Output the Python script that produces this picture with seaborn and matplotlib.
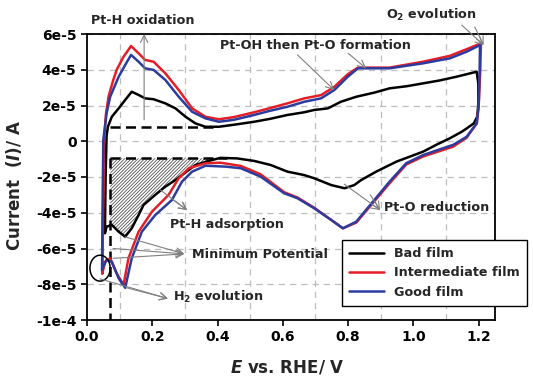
"""
plot.py - cyclic voltammograms of the three Pt films (bad / intermediate / good).
"""

import numpy as np
import pandas as pd
import matplotlib
matplotlib.use("Agg")
import matplotlib.pyplot as plt
from matplotlib.patches import Ellipse
import seaborn as sns

SCALE = 1e-5  # currents below are written in units of 1e-5 A

# ---- Bad film (black) : forward (anodic) then reverse (cathodic) scan
bad_fwd_e = [0.055, 0.057, 0.060, 0.064, 0.076, 0.097, 0.117, 0.137, 0.158, 0.178,
             0.204, 0.240, 0.271, 0.302, 0.332, 0.363, 0.404, 0.460, 0.512, 0.560,
             0.614, 0.665, 0.696, 0.738, 0.778, 0.825, 0.880, 0.927, 0.980, 1.030,
             1.080, 1.132, 1.194]
bad_fwd_i = [-5.10, -2.00, 0.30, 0.81, 1.37, 1.84, 2.31, 2.77, 2.59, 2.40,
             2.35, 2.12, 1.84, 1.37, 1.00, 0.81, 0.81, 0.95, 1.09, 1.25,
             1.47, 1.62, 1.75, 1.84, 2.21, 2.49, 2.72, 2.96, 3.08, 3.24,
             3.40, 3.61, 3.89]
bad_rev_e = [1.199, 1.199, 1.196, 1.185, 1.165, 1.148, 1.110, 1.070, 1.030, 0.948,
             0.886, 0.840, 0.819, 0.789, 0.748, 0.696, 0.665, 0.614, 0.563, 0.512,
             0.460, 0.409, 0.373, 0.332, 0.302, 0.271, 0.240, 0.209, 0.173, 0.158,
             0.137, 0.117, 0.097, 0.076, 0.060, 0.055]
bad_rev_i = [3.20, 2.20, 1.40, 1.00, 0.74, 0.53, 0.15, -0.20, -0.58, -1.14,
             -1.70, -2.17, -2.45, -2.63, -2.45, -2.07, -1.89, -1.70, -1.33, -1.10,
             -0.96, -0.93, -1.10, -1.33, -1.74, -2.17, -2.54, -3.00, -3.57, -4.13,
             -4.87, -5.34, -5.06, -4.68, -4.78, -5.15]

# ---- Intermediate film (red)
mid_fwd_e = [0.047, 0.050, 0.052, 0.058, 0.066, 0.080, 0.091, 0.112, 0.135, 0.158,
             0.178, 0.204, 0.240, 0.281, 0.322, 0.363, 0.404, 0.450, 0.512, 0.560,
             0.614, 0.666, 0.717, 0.758, 0.799, 0.830, 0.855, 0.927, 1.030, 1.112,
             1.163, 1.207]
mid_fwd_i = [-7.40, -3.00, 0.00, 1.50, 2.50, 3.40, 4.00, 4.73, 5.33, 4.92,
             4.55, 4.45, 3.80, 2.87, 1.84, 1.37, 1.23, 1.35, 1.62, 1.85,
             2.12, 2.40, 2.58, 3.05, 3.75, 4.12, 4.12, 4.12, 4.45, 4.78,
             5.15, 5.48]
mid_rev_e = [1.205, 1.200, 1.194, 1.163, 1.122, 1.030, 0.978, 0.927, 0.876, 0.825,
             0.784, 0.748, 0.696, 0.645, 0.604, 0.532, 0.471, 0.409, 0.363, 0.312,
             0.281, 0.250, 0.199, 0.158, 0.127, 0.112, 0.091, 0.071, 0.055, 0.047]
mid_rev_i = [4.00, 2.00, 1.00, 0.20, -0.30, -0.85, -1.30, -2.35, -3.45, -4.55,
             -4.87, -4.40, -3.72, -3.15, -2.85, -1.85, -1.38, -1.20, -1.23, -1.51,
             -2.07, -3.00, -3.94, -5.06, -6.55, -8.04, -7.39, -6.55, -6.74, -7.40]

# ---- Good film (blue)
good_fwd_e = [0.046, 0.048, 0.050, 0.060, 0.071, 0.097, 0.117, 0.135, 0.158, 0.178,
              0.204, 0.240, 0.281, 0.322, 0.363, 0.404, 0.450, 0.512, 0.560, 0.614,
              0.666, 0.717, 0.758, 0.799, 0.830, 0.855, 0.927, 1.030, 1.112, 1.163,
              1.204]
good_fwd_i = [-7.20, -3.00, 0.07, 1.56, 2.49, 3.61, 4.27, 4.83, 4.45, 4.08,
              3.99, 3.43, 2.49, 1.65, 1.28, 1.09, 1.20, 1.47, 1.70, 1.93,
              2.21, 2.40, 2.87, 3.61, 4.08, 4.08, 4.08, 4.36, 4.64, 5.01,
              5.38]
good_rev_e = [1.203, 1.200, 1.194, 1.163, 1.122, 1.030, 0.978, 0.927, 0.876, 0.825,
              0.784, 0.748, 0.696, 0.645, 0.604, 0.532, 0.471, 0.425, 0.363, 0.322,
              0.291, 0.260, 0.209, 0.168, 0.137, 0.117, 0.097, 0.076, 0.060, 0.050,
              0.046]
good_rev_i = [4.00, 2.00, 1.00, 0.25, -0.20, -0.77, -1.23, -2.26, -3.38, -4.50,
              -4.87, -4.40, -3.75, -3.19, -2.91, -1.98, -1.51, -1.42, -1.37, -1.70,
              -2.26, -3.29, -4.13, -5.06, -6.55, -8.20, -7.67, -6.74, -6.64, -7.02,
              -7.20]

films = ["Bad film", "Intermediate film", "Good film"]
colors = {"Bad film": "#000000", "Intermediate film": "#e41e26", "Good film": "#2c3c9e"}

x_ticks = [0.0, 0.2, 0.4, 0.6, 0.8, 1.0, 1.2]
x_grid = [0.1, 0.3, 0.5, 0.7, 0.9, 1.1]
y_ticks = [-10, -8, -6, -4, -2, 0, 2, 4, 6]
y_labels = ["-1e-4", "-8e-5", "-6e-5", "-4e-5", "-2e-5", "0", "2e-5", "4e-5", "6e-5"]

# guide lines drawn by hand in the original figure (E in V, I in 1e-5 A)
upper_base_i, upper_base_e = 0.81, (0.071, 0.40)
lower_base_i, lower_base_e = -0.95, (0.071, 0.43)
min_potential_e = 0.071

sns.set_theme(style="ticks")
plt.rcParams["font.family"] = ["DejaVu Sans"]
plt.rcParams["font.weight"] = "bold"
plt.rcParams["mathtext.fontset"] = "custom"
plt.rcParams["mathtext.rm"] = "DejaVu Sans:bold"
plt.rcParams["mathtext.it"] = "DejaVu Sans:italic:bold"
plt.rcParams["mathtext.bf"] = "DejaVu Sans:bold"
plt.rcParams["hatch.linewidth"] = 0.6

frames = []
for name, fe, fi, re, ri in [
    ("Bad film", bad_fwd_e, bad_fwd_i, bad_rev_e, bad_rev_i),
    ("Intermediate film", mid_fwd_e, mid_fwd_i, mid_rev_e, mid_rev_i),
    ("Good film", good_fwd_e, good_fwd_i, good_rev_e, good_rev_i),
]:
    frames.append(pd.DataFrame({"E": fe + re,
                                "I": np.array(fi + ri) * SCALE,
                                "film": name}))
df = pd.concat(frames, ignore_index=True)

fig = plt.figure(figsize=(5.33, 3.83), dpi=100)
ax = fig.add_axes([87 / 533, 1 - 320 / 383, 408 / 533, 286 / 383])

# grid: odd tenths on x, every tick on y
for gx in x_grid:
    ax.axvline(gx, color="#bdbdbd", ls=(0, (5, 4)), lw=0.9, zorder=0)
for gy in y_ticks:
    ax.axhline(gy * SCALE, color="#bdbdbd", ls=(0, (5, 4)), lw=0.9, zorder=0)

# hatched area between the black cathodic branch and the lower base line
order = np.argsort(bad_rev_e)
xs = np.linspace(lower_base_e[0], lower_base_e[1], 300)
lower = np.interp(xs, np.array(bad_rev_e)[order], np.array(bad_rev_i)[order])
ax.fill_between(xs, lower * SCALE, lower_base_i * SCALE, where=lower < lower_base_i,
                facecolor="white", edgecolor="#555555", hatch="//////////", lw=0,
                zorder=1)

sns.lineplot(data=df, x="E", y="I", hue="film", hue_order=films, palette=colors,
             sort=False, estimator=None, lw=1.8, ax=ax, zorder=3)

# dashed guide lines
dash = dict(color="black", lw=1.8, dashes=(4, 2.2), zorder=2)
ax.plot(upper_base_e, [upper_base_i * SCALE] * 2, **dash)
ax.plot(lower_base_e, [lower_base_i * SCALE] * 2, **dash)
ax.plot([min_potential_e] * 2, [lower_base_i * SCALE, y_ticks[0] * SCALE], **dash)

ax.add_patch(Ellipse((0.040, -7.1 * SCALE), 0.062, 1.45 * SCALE,
                     fill=False, ec="black", lw=1.1, zorder=4))

# annotations: text + thin grey arrows
arrow = dict(arrowstyle="->", color="#808080", lw=0.8, mutation_scale=13,
             shrinkA=0, shrinkB=0)
fs = 9.2


def arrows(tails, head):
    for tx, ty in tails:
        ax.annotate("", xy=(head[0], head[1] * SCALE), xytext=(tx, ty * SCALE),
                    arrowprops=arrow, annotation_clip=False, zorder=5)


ax.text(0.172, 6.78 * SCALE, "Pt-H oxidation", ha="center", va="center", fontsize=fs,
        clip_on=False)
arrows([(0.175, 1.2)], (0.175, 6.0))

ax.text(0.70, 5.38 * SCALE, "Pt-OH then Pt-O formation", ha="center", va="center",
        fontsize=fs)
arrows([(0.645, 4.83)], (0.757, 2.87))
arrows([(0.800, 4.92)], (0.855, 4.08))

ax.text(1.055, 7.06 * SCALE, r"O$_2$ evolution", ha="center", va="center", fontsize=fs,
        clip_on=False)
arrows([(1.148, 6.5), (1.188, 6.39)], (1.215, 5.38))

ax.text(0.911, -3.68 * SCALE, "Pt-O reduction", ha="left", va="center", fontsize=fs)
arrows([(0.788, -2.4), (0.868, -3.0)], (0.898, -3.85))

ax.text(0.255, -4.68 * SCALE, "Pt-H adsorption", ha="left", va="center", fontsize=fs)
arrows([(0.225, -2.73), (0.265, -3.3)], (0.307, -3.85))

ax.text(0.323, -6.36 * SCALE, "Minimum Potential", ha="left", va="center", fontsize=fs)
arrows([(0.117, -5.35), (0.080, -6.0), (0.080, -6.55)], (0.298, -6.3))

ax.text(0.265, -8.71 * SCALE, r"H$_2$ evolution", ha="left", va="center", fontsize=fs)
arrows([(0.040, -7.7), (0.122, -8.2)], (0.248, -8.8))

# axes
ax.set_xlim(0, 1.25)
ax.set_ylim(y_ticks[0] * SCALE, y_ticks[-1] * SCALE)
ax.set_xticks(x_ticks)
ax.set_xticklabels([f"{v:.1f}" for v in x_ticks])
ax.set_yticks([v * SCALE for v in y_ticks])
ax.set_yticklabels(y_labels)
ax.tick_params(direction="out", length=4, width=1.2, labelsize=10, colors="black")
for s in ax.spines.values():
    s.set_visible(True)
    s.set_linewidth(1.3)
    s.set_color("black")

ax.set_xlabel(r"$E$ vs. RHE/ V", fontsize=12, fontweight="bold")
ax.set_ylabel(r"Current  ($I$)/ A", fontsize=12, fontweight="bold")
ax.xaxis.set_label_coords(0.49, -0.135)
ax.yaxis.set_label_coords(-0.155, 0.47)

handles, labels = ax.get_legend_handles_labels()
leg = ax.legend(handles, labels, loc="upper left",
                bbox_to_anchor=(342 / 533, 1 - 240 / 383), bbox_transform=fig.transFigure,
                frameon=True, fancybox=False, edgecolor="black", framealpha=1,
                fontsize=fs, handlelength=2.7, borderpad=0.55, labelspacing=0.5,
                borderaxespad=0)
leg.get_frame().set_linewidth(1.0)
leg.set_zorder(10)

fig.savefig("out.png", dpi=100)
